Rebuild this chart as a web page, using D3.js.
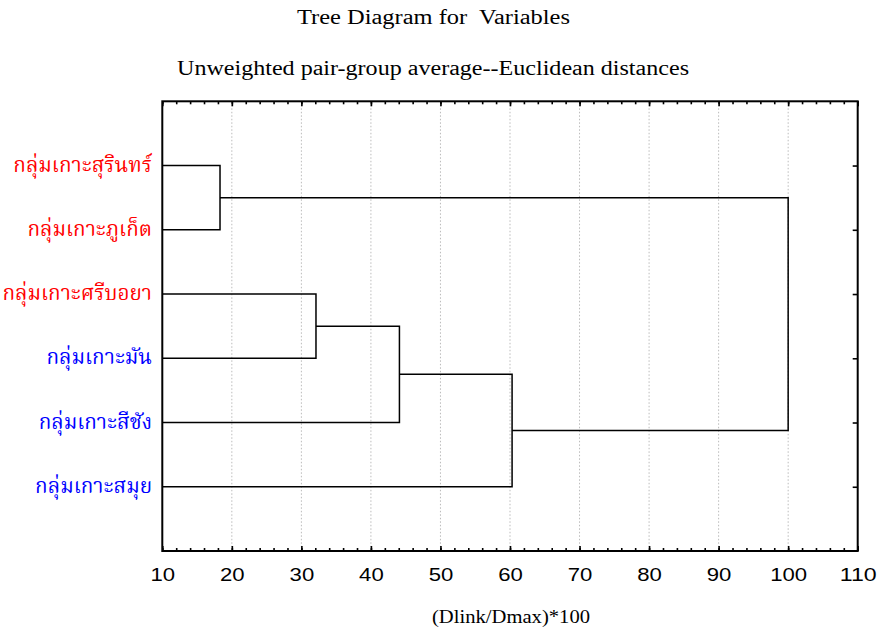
<!DOCTYPE html>
<html>
  <head>
    <meta charset="utf-8">
    <title>Tree Diagram</title>
    <script src="https://cdn.jsdelivr.net/npm/d3@7"></script>
    <style type='text/css'>
      body { margin: 0; background: #fff; }
      .title { font-family: 'Liberation Serif', 'Times New Roman', serif; fill: #000; }
      .axis text { font-family: 'Liberation Sans', Arial, sans-serif; font-size: 19px; fill: #000; }
      .axis path { display: none; }
      .axis line { stroke: #000; stroke-width: 1.6; }
      .grid line { stroke: #bbb; stroke-dasharray: 1.5,2; }
      .leaf { font-family: 'Noto Serif Thai', 'Noto Sans Thai', 'Loma', 'Garuda', serif; font-size: 20.7px; }
    </style>
  </head>
  <body>
    <script type="text/javascript">
      var w = 882;
      var h = 627;

      // leaves, top to bottom
      var leaves = ['กลุ่มเกาะสุรินทร์', 'กลุ่มเกาะภูเก็ต', 'กลุ่มเกาะศรีบอยา', 'กลุ่มเกาะมัน', 'กลุ่มเกาะสีชัง', 'กลุ่มเกาะสมุย'];
      var leafColors = ['#ff0000', '#ff0000', '#ff0000', '#0000ff', '#0000ff', '#0000ff'];
      // merges: [node a, node b, linkage distance]; new nodes numbered 6, 7, ...
      var mergeA = [0, 2, 7, 8, 6];
      var mergeB = [1, 3, 4, 5, 9];
      var mergeDist = [18.3, 32.1, 44.1, 60.3, 100];
      var xTicks = [10, 20, 30, 40, 50, 60, 70, 80, 90, 100, 110];

      var pLeft = 162.3, pRight = 857.7, pTop = 101.3, pBottom = 551;

      var svg = d3.select('body')
                  .append('svg')
                  .attr('width', w)
                  .attr('height', h);

      var xScale = d3.scaleLinear()
                      .domain([10, 110])
                      .range([pLeft, pRight]);

      var yScale = d3.scaleLinear()
                      .domain([0, leaves.length + 1])
                      .range([pTop, pBottom]);

      // titles (reference text is a bit stretched sideways, so fix the widths)
      svg.append('text')
          .attr('class', 'title')
          .attr('x', 433.5).attr('y', 24)
          .attr('text-anchor', 'middle')
          .attr('textLength', 273)
          .attr('lengthAdjust', 'spacingAndGlyphs')
          .style('font-size', '20px')
          .text('Tree Diagram for\u00a0 Variables');

      svg.append('text')
          .attr('class', 'title')
          .attr('x', 433).attr('y', 75)
          .attr('text-anchor', 'middle')
          .attr('textLength', 512)
          .attr('lengthAdjust', 'spacingAndGlyphs')
          .style('font-size', '20px')
          .text('Unweighted pair-group average--Euclidean distances');

      svg.append('text')
          .attr('class', 'title')
          .attr('x', 511).attr('y', 623)
          .attr('text-anchor', 'middle')
          .attr('textLength', 158)
          .attr('lengthAdjust', 'spacingAndGlyphs')
          .style('font-size', '18px')
          .text('(Dlink/Dmax)*100');

      // dotted grid
      svg.append('g')
          .attr('class', 'grid')
          .selectAll('line')
          .data(xTicks.slice(1, -1))
          .enter()
          .append('line')
          .attr('x1', function(d) {return xScale(d);})
          .attr('x2', function(d) {return xScale(d);})
          .attr('y1', pTop)
          .attr('y2', pBottom);

      var minor = d3.range(10, 111, 2);

      // bottom axis
      svg.append('g')
          .attr('class', 'axis')
          .attr('transform', 'translate(0,' + pBottom + ')')
          .call(d3.axisBottom(xScale).tickValues(minor).tickSize(-3).tickFormat(''));
      var bx = svg.append('g')
          .attr('class', 'axis')
          .attr('transform', 'translate(0,' + pBottom + ')')
          .call(d3.axisBottom(xScale).tickValues(xTicks).tickSizeInner(-5).tickSizeOuter(0).tickPadding(17).tickFormat(d3.format('d')));
      bx.selectAll('text')
          .attr('textLength', function(d) {return String(d).length * 12.3;})
          .attr('lengthAdjust', 'spacingAndGlyphs');

      // top axis
      svg.append('g')
          .attr('class', 'axis')
          .attr('transform', 'translate(0,' + pTop + ')')
          .call(d3.axisTop(xScale).tickValues(minor).tickSize(-3).tickFormat(''));
      svg.append('g')
          .attr('class', 'axis')
          .attr('transform', 'translate(0,' + pTop + ')')
          .call(d3.axisTop(xScale).tickValues(xTicks).tickSize(-5).tickFormat(''));

      // right axis ticks at leaves
      svg.append('g')
          .attr('class', 'axis')
          .attr('transform', 'translate(' + pRight + ',0)')
          .call(d3.axisRight(yScale).tickValues(d3.range(1, leaves.length + 1)).tickSize(-5).tickFormat(''));

      // frame
      svg.append('rect')
          .attr('x', pLeft).attr('y', pTop)
          .attr('width', pRight - pLeft).attr('height', pBottom - pTop)
          .attr('fill', 'none')
          .attr('stroke', '#000')
          .attr('stroke-width', 2);

      // leaf labels
      svg.selectAll('text.leaf')
          .data(leaves)
          .enter()
          .append('text')
          .attr('class', 'leaf')
          .attr('x', 152)
          .attr('y', function(d, i) {return yScale(i + 1);})
          .attr('dy', '0.3em')
          .attr('text-anchor', 'end')
          .attr('fill', function(d, i) {return leafColors[i];})
          .text(function(d) {return d;});

      // node positions
      var nodeX = [], nodeY = [];
      leaves.forEach(function(d, i) {
        nodeX.push(10);
        nodeY.push(i + 1);
      });
      var links = [];
      mergeDist.forEach(function(dist, k) {
        var a = mergeA[k], b = mergeB[k];
        links.push({ax: nodeX[a], ay: nodeY[a], bx: nodeX[b], by: nodeY[b], d: dist});
        nodeX.push(dist);
        nodeY.push((nodeY[a] + nodeY[b]) / 2);
      });

      svg.append('g')
          .selectAll('path')
          .data(links)
          .enter()
          .append('path')
          .attr('fill', 'none')
          .attr('stroke', '#000')
          .attr('stroke-width', 1.5)
          .attr('d', function(l) {
            return 'M' + xScale(l.ax) + ',' + yScale(l.ay) +
                   'H' + xScale(l.d) +
                   'V' + yScale(l.by) +
                   'H' + xScale(l.bx);
          });
    </script>
  </body>
</html>
